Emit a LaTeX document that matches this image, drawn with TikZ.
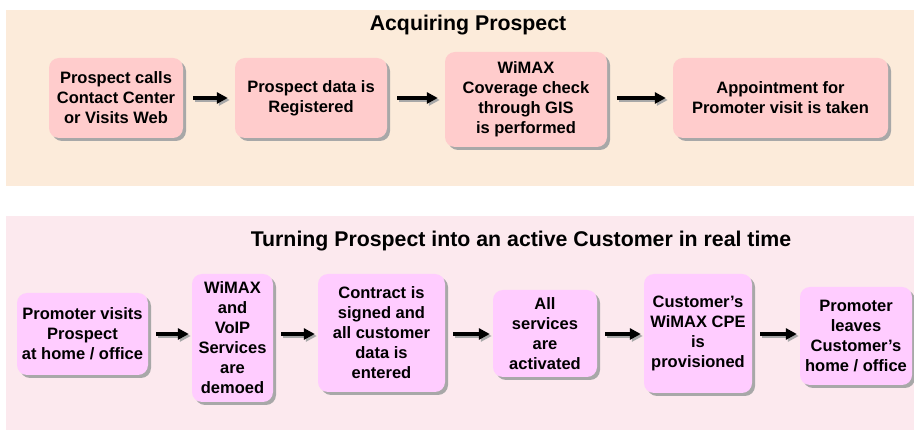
\documentclass[tikz,border=0pt]{standalone}
\usepackage{fontspec}
\setmainfont{Liberation Sans}
\usetikzlibrary{arrows.meta,shadows}
\definecolor{panelA}{HTML}{FCEBDA}
\definecolor{panelB}{HTML}{FCE9EE}
\definecolor{boxA}{HTML}{FFCCCC}
\definecolor{boxB}{HTML}{FFCCFF}
\definecolor{shade}{HTML}{A8A8A8}
\tikzset{
  stepbox/.style={rounded corners=10pt, align=center, inner sep=2pt,
    font=\bfseries\fontsize{16.5}{20}\selectfont,
    drop shadow={shadow xshift=3pt, shadow yshift=-3pt, fill=shade, opacity=1}},
  topbox/.style={stepbox, fill=boxA},
  botbox/.style={stepbox, fill=boxB},
  heading/.style={font=\bfseries\fontsize{21.3}{25}\selectfont, inner sep=0pt},
  flow/.style={line width=3.5pt, -{Triangle[length=11pt,width=11pt]}},
  flowshadow/.style={line width=3.5pt, draw=shade, -{Triangle[length=11pt,width=11pt]}},
}
\newcommand{\boxat}[6]{% name, style, x1, y1, x2, y2 ; text follows
  \node[#2, minimum width=#5-#3, minimum height=#6-#4] (#1) at ({(#3+#5)/2},{(#4+#6)/2})}
\begin{document}
\begin{tikzpicture}[x=1pt,y=-1pt]
\useasboundingbox (0,0) rectangle (914,430);
\fill[white] (0,0) rectangle (914,430);
% panels
\fill[panelA] (6,10) rectangle (914,186);
\fill[panelB] (6,216) rectangle (914,430);
% headings
\node[heading] (h1) at (468,25) {Acquiring Prospect};
\node[heading] (h2) at (521,241) {Turning Prospect into an active Customer in real time};
% upper row
\boxat{a1}{topbox}{49}{58}{183}{138}{Prospect calls\\Contact Center\\or Visits Web};
\boxat{a2}{topbox}{235}{58}{387}{138}{Prospect data is\\Registered};
\boxat{a3}{topbox}{445}{52}{607}{147}{WiMAX\\Coverage check\\through GIS\\is performed};
\boxat{a4}{topbox}{673}{58}{888}{138}{Appointment for\\Promoter visit is taken};
% lower row
\boxat{b1}{botbox}{17}{293}{148}{375}{Promoter visits\\Prospect\\at home / office};
\boxat{b2}{botbox}{192}{274}{273}{402}{WiMAX\\and\\VoIP\\Services\\are\\demoed};
\boxat{b3}{botbox}{318}{274}{445}{392}{Contract is\\signed and\\all customer\\data is\\entered};
\boxat{b4}{botbox}{493}{290}{597}{377}{All\\services\\are\\activated};
\boxat{b5}{botbox}{644}{274}{752}{393}{Customer’s\\WiMAX CPE\\is\\provisioned};
\boxat{b6}{botbox}{800}{287}{912}{385}{Promoter\\leaves\\Customer’s\\home / office};
% connectors, each with a grey shadow below and to the right
\foreach \s/\t in {a1/a2,a2/a3,a3/a4}{
  \draw[flowshadow] ([xshift=12pt,yshift=-2pt]\s.east|-a1.east) -- ([xshift=-5pt,yshift=-2pt]\t.west|-a1.east);
  \draw[flow] ([xshift=10pt]\s.east|-a1.east) -- ([xshift=-7pt]\t.west|-a1.east);
}
\foreach \s/\t in {b1/b2,b2/b3,b3/b4,b4/b5,b5/b6}{
  \draw[flowshadow] ([xshift=10pt,yshift=-2pt]\s.east|-b1.east) -- ([xshift=-1pt,yshift=-2pt]\t.west|-b1.east);
  \draw[flow] ([xshift=8pt]\s.east|-b1.east) -- ([xshift=-3pt]\t.west|-b1.east);
}
\end{tikzpicture}
\end{document}
